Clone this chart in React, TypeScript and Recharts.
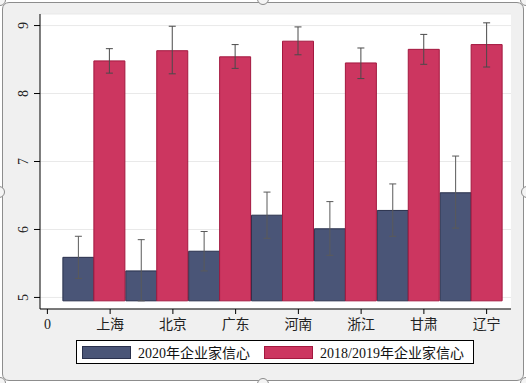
import React from 'react';
import { BarChart, Bar, XAxis, YAxis, CartesianGrid, ErrorBar, Legend } from 'recharts';

// ---- data ----
const regions = ['上海', '北京', '广东', '河南', '浙江', '甘肃', '辽宁'];
const conf2020 = [5.59, 5.39, 5.68, 6.21, 6.01, 6.28, 6.54];
const conf2020Lo = [5.28, 4.95, 5.39, 5.87, 5.62, 5.90, 6.02];
const conf2020Hi = [5.90, 5.85, 5.97, 6.55, 6.41, 6.67, 7.08];
const conf2019 = [8.48, 8.63, 8.54, 8.77, 8.45, 8.65, 8.72];
const conf2019Lo = [8.30, 8.29, 8.37, 8.57, 8.22, 8.43, 8.39];
const conf2019Hi = [8.66, 8.99, 8.72, 8.98, 8.67, 8.87, 9.04];
const yTicks = [5, 6, 7, 8, 9];
const zeroLabel = '0';
const seriesNames = ['2020年企业家信心', '2018/2019年企业家信心'];

const BASE = 4.95;
const Y_DOMAIN: [number, number] = [4.83, 9.17];

const data = [
  { label: zeroLabel },
  ...regions.map((r, i) => ({
    label: r,
    v2020: conf2020[i],
    e2020: [conf2020[i] - conf2020Lo[i], conf2020Hi[i] - conf2020[i]],
    v2019: conf2019[i],
    e2019: [conf2019[i] - conf2019Lo[i], conf2019Hi[i] - conf2019[i]],
  })),
];

const BLUE = '#4a5577';
const BLUE_EDGE = '#29304c';
const RED = '#cc3660';
const RED_EDGE = '#a3183f';
const FONT = "'Liberation Serif', 'Noto Sans CJK SC', serif";

const YTick = (props: any) => {
  const { x, y, payload } = props;
  const tx = x - 4;
  return (
    <text x={tx} y={y} transform={`rotate(-90 ${tx} ${y})`} textAnchor="middle" fill="#222" fontSize={14} fontFamily={FONT}>
      {payload.value}
    </text>
  );
};

const LegendBox = () => (
  <div
    style={{
      boxSizing: 'border-box',
      width: 398,
      height: 24,
      border: '1px solid #000',
      background: '#fff',
      display: 'flex',
      alignItems: 'center',
      fontFamily: FONT,
      fontSize: 14,
      color: '#111',
    }}
  >
    <div style={{ display: 'flex', alignItems: 'center', width: 187 }}>
      <span style={{ boxSizing: 'border-box', display: 'inline-block', width: 49, height: 13, marginLeft: 5, background: BLUE, border: `1px solid ${BLUE_EDGE}` }} />
      <span style={{ marginLeft: 7, whiteSpace: 'nowrap' }}>{seriesNames[0]}</span>
    </div>
    <div style={{ display: 'flex', alignItems: 'center' }}>
      <span style={{ boxSizing: 'border-box', display: 'inline-block', width: 49, height: 13, background: RED, border: `1px solid ${RED_EDGE}` }} />
      <span style={{ marginLeft: 7, whiteSpace: 'nowrap' }}>{seriesNames[1]}</span>
    </div>
  </div>
);

const Handle = ({ cx, cy }: { cx: number; cy: number }) => (
  <div
    style={{
      position: 'absolute',
      left: cx - 6,
      top: cy - 6,
      width: 12,
      height: 12,
      boxSizing: 'border-box',
      borderRadius: '50%',
      border: '1.5px solid #8a8a8a',
      background: '#f4f4f4',
    }}
  />
);

export default function App() {
  return (
    <div style={{ position: 'absolute', left: 0, top: 0, width: 526, height: 383, overflow: 'hidden', background: '#fff' }}>
      <div
        style={{
          position: 'absolute',
          left: 2,
          top: 2,
          width: 522,
          height: 379,
          boxSizing: 'border-box',
          border: '1.5px solid #8d8d8d',
          borderRadius: 7,
          background: '#f0f0f0',
        }}
      />
      <div style={{ position: 'absolute', left: 0, top: 0 }}>
        <BarChart
          width={526}
          height={383}
          data={data}
          margin={{ top: 14, right: 15, left: 10, bottom: 44 }}
          barCategoryGap={0}
          barGap={0}
        >
          <CartesianGrid horizontal vertical={false} fill="#fff" stroke="#e9e9e9" xAxisId="ticks" />
          <XAxis
            xAxisId="ticks"
            dataKey="label"
            interval={0}
            padding={{ left: -24, right: -7 }}
            tickSize={5}
            tickMargin={5}
            axisLine={{ stroke: '#000' }}
            tickLine={{ stroke: '#000' }}
            tick={{ fill: '#222', fontSize: 14, fontFamily: FONT }}
            height={30}
          />
          <XAxis xAxisId="bars" dataKey="label" hide height={0} padding={{ left: -40, right: 8 }} />
          <YAxis
            width={30}
            domain={Y_DOMAIN}
            allowDataOverflow
            ticks={yTicks}
            tickSize={6}
            tickMargin={2}
            axisLine={{ stroke: '#000' }}
            tickLine={{ stroke: '#000' }}
            tick={<YTick />}
          />
          <Bar
            xAxisId="bars"
            name={seriesNames[0]}
            dataKey={(d: any) => (d.v2020 == null ? null : [BASE, d.v2020])}
            fill={BLUE}
            stroke={BLUE_EDGE}
            strokeWidth={1}
            isAnimationActive={false}
          >
            <ErrorBar dataKey={(d: any) => d.e2020 ?? d.payload?.e2020} width={3.5} stroke="#5a5a5a" strokeWidth={1} direction="y" />
          </Bar>
          <Bar
            xAxisId="bars"
            name={seriesNames[1]}
            dataKey={(d: any) => (d.v2019 == null ? null : [BASE, d.v2019])}
            fill={RED}
            stroke={RED_EDGE}
            strokeWidth={1}
            isAnimationActive={false}
          >
            <ErrorBar dataKey={(d: any) => d.e2019 ?? d.payload?.e2019} width={3.5} stroke="#4a4a4a" strokeWidth={1} direction="y" />
          </Bar>
          <Legend
            verticalAlign="middle"
            layout="horizontal"
            content={<LegendBox />}
            wrapperStyle={{ left: 76, top: 340, width: 398, height: 24 }}
          />
        </BarChart>
      </div>
      <Handle cx={263} cy={-1} />
      <Handle cx={263} cy={384} />
      <Handle cx={-1} cy={192} />
      <Handle cx={527} cy={192} />
      <Handle cx={0} cy={0} />
      <Handle cx={526} cy={0} />
      <Handle cx={0} cy={383} />
      <Handle cx={526} cy={383} />
    </div>
  );
}
